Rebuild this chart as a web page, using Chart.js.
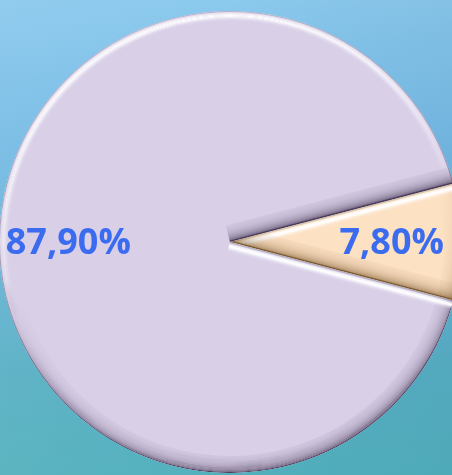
<!DOCTYPE html>
<html><head><meta charset="utf-8">
<script src="https://cdn.jsdelivr.net/npm/chart.js@4/dist/chart.umd.min.js"></script>
<style>
html,body{margin:0;padding:0;}
body{width:452px;height:475px;overflow:hidden;
 background:
  linear-gradient(90deg,rgba(255,255,255,0.06) 0%,rgba(255,255,255,0) 50%,rgba(0,40,80,0.05) 100%),
  linear-gradient(180deg,#8bc9ed 0%,#76bbe5 30%,#67b4d6 55%,#57afc3 78%,#52b0bd 100%);}
#wrap{position:relative;width:452px;height:475px;}
</style></head><body>
<div id="wrap"><canvas id="c" width="452" height="475"></canvas></div>
<script>
const categories = ['1', '2'];
const values = [87.9, 7.8];
const sliceColors = ['#d9d0e8', '#fde1c3'];
const shadeColors = [[75, 60, 90], [125, 90, 50]];
const labelColor = '#3b6cf0';

const total = values.reduce((a, b) => a + b, 0);
const ang0 = values[0] / total * 360, ang1 = values[1] / total * 360;
const rotationDeg = 90 - ang0 - ang1 / 2;

const L = (() => { const x = -0.3, y = -1, n = Math.hypot(x, y); return [x / n, y / n]; })();

function profile(d, t, shade) {
  const h = Math.max(0, d), s = Math.max(0, -d);
  let ha = Math.min(1, 1.1 * Math.pow(h, 0.7)) * Math.exp(-Math.pow((t - 4.5) / 2.8, 2));
  let sa = Math.pow(s, 0.8) * 0.85 * Math.exp(-t / 6.5) + (t < 1.5 ? 0.4 : 0) * (1 - h * 0.4);
  const tot = ha + sa;
  if (tot <= 0.001) return 'rgba(255,255,255,0)';
  const r = (255 * ha + shade[0] * sa) / tot, g = (255 * ha + shade[1] * sa) / tot, b = (255 * ha + shade[2] * sa) / tot;
  return `rgba(${r | 0},${g | 0},${b | 0},${Math.min(1, tot).toFixed(3)})`;
}

const bevelPlugin = {
  id: 'bevel',
  afterDatasetsDraw(chart) {
    const ctx = chart.ctx;
    const meta = chart.getDatasetMeta(0);
    meta.data.forEach((arc, i) => {
      const p = arc.getProps(['x', 'y', 'startAngle', 'endAngle', 'outerRadius']);
      const { x, y, startAngle: sA, endAngle: eA, outerRadius: r } = p;
      const shade = shadeColors[i];
      ctx.save();
      ctx.beginPath(); ctx.moveTo(x, y); ctx.arc(x, y, r, sA, eA); ctx.closePath(); ctx.clip();
      const W = 17;
      for (let k = 0; k < W; k++) {
        const t = k + 0.5;
        const g = ctx.createConicGradient(0, x, y);
        for (let deg = 0; deg <= 360; deg += 10) {
          const a = deg * Math.PI / 180;
          const d = Math.cos(a) * L[0] + Math.sin(a) * L[1];
          g.addColorStop(deg / 360, profile(d, t, shade));
        }
        ctx.beginPath();
        ctx.arc(x, y, r - t, sA, eA);
        ctx.lineWidth = 1.05;
        ctx.strokeStyle = g;
        ctx.stroke();
      }
      const edges = [[sA, sA - Math.PI / 2], [eA, eA + Math.PI / 2]];
      edges.forEach(([th, nAng]) => {
        const nx = Math.cos(nAng), ny = Math.sin(nAng);
        const d = nx * L[0] + ny * L[1];
        const ex = Math.cos(th), ey = Math.sin(th);
        const g = ctx.createLinearGradient(x, y, x - nx * W, y - ny * W);
        for (let k = 0; k <= W; k++) g.addColorStop(k / W, profile(d, k, shade));
        ctx.beginPath();
        ctx.moveTo(x, y);
        ctx.lineTo(x + ex * (r + 5), y + ey * (r + 5));
        ctx.lineTo(x + ex * (r + 5) - nx * W, y + ey * (r + 5) - ny * W);
        ctx.lineTo(x - nx * W, y - ny * W);
        ctx.closePath();
        ctx.fillStyle = g;
        ctx.fill();
      });
      ctx.restore();
    });
  }
};

const labelPlugin = {
  id: 'sliceLabels',
  afterDatasetsDraw(chart) {
    const ctx = chart.ctx;
    const meta = chart.getDatasetMeta(0);
    ctx.save();
    ctx.font = 'bold 36px "Open Sans", sans-serif';
    ctx.fillStyle = labelColor;
    ctx.textAlign = 'center';
    ctx.textBaseline = 'middle';
    meta.data.forEach((arc, i) => {
      const p = arc.getProps(['x', 'y', 'startAngle', 'endAngle', 'outerRadius']);
      const mid = (p.startAngle + p.endAngle) / 2;
      const rr = p.outerRadius * 0.7;
      const txt = values[i].toFixed(2).replace('.', ',') + '%';
      ctx.fillText(txt, p.x + Math.cos(mid) * rr, p.y + Math.sin(mid) * rr + 2);
    });
    ctx.restore();
  }
};

new Chart(document.getElementById('c'), {
  type: 'pie',
  data: {
    labels: categories,
    datasets: [{
      data: values,
      backgroundColor: sliceColors,
      borderWidth: 0,
      clip: false
    }]
  },
  options: {
    responsive: false,
    animation: false,
    rotation: rotationDeg,
    radius: 231,
    layout: { padding: { left: 8, top: 9, right: 0, bottom: 0 } },
    plugins: { legend: { display: false }, tooltip: { enabled: false } }
  },
  plugins: [bevelPlugin, labelPlugin]
});
</script>
</body></html>
